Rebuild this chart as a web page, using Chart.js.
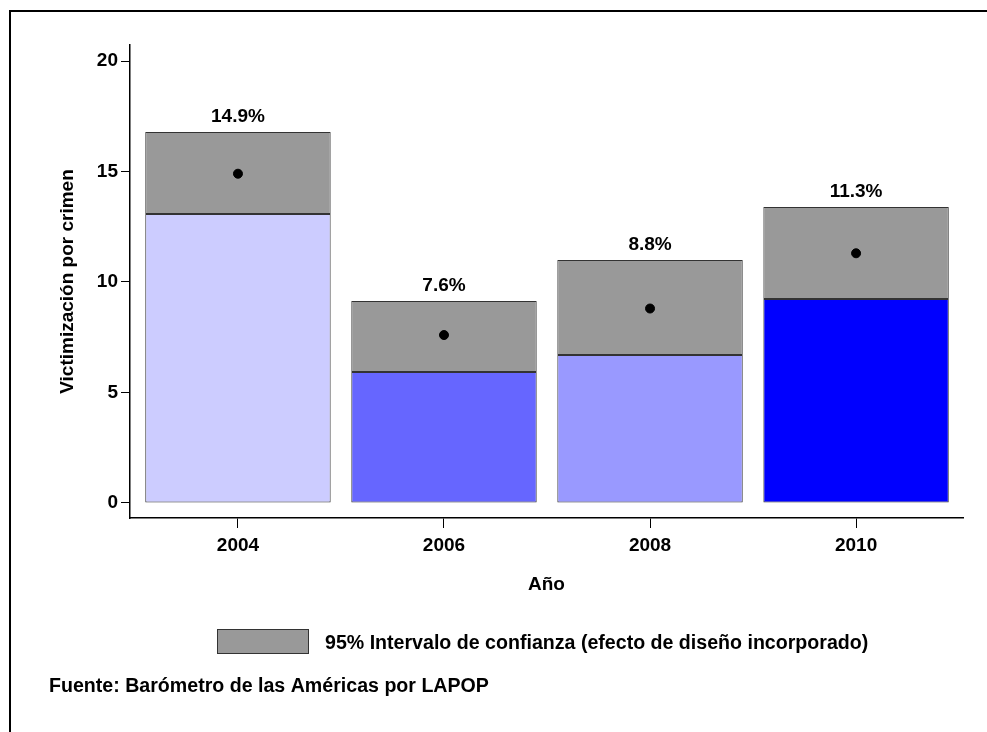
<!DOCTYPE html>
<html>
<head>
<meta charset="utf-8">
<script src="https://cdn.jsdelivr.net/npm/chart.js@4.4.1/dist/chart.umd.min.js"></script>
<style>
    html, body { margin: 0; padding: 0; background: #fff; }
    #frame {
        position: absolute; left: 9px; top: 10px; right: 0; bottom: 0;
        border-top: 2px solid #000; border-left: 2px solid #000;
    }
    #wrap { position: absolute; left: 0; top: 0; width: 987px; height: 732px; }
</style>
</head>
<body>
<div id="frame"></div>
<div id="wrap"><canvas id="chart" width="987" height="732"></canvas></div>
<script>
// data
const years = ['2004', '2006', '2008', '2010'];
const means = [14.9, 7.6, 8.8, 11.3];
const ciLower = [13.08, 5.93, 6.70, 9.23];
const ciUpper = [16.79, 9.14, 11.00, 13.39];
const barColors = ['#ccccff', '#6666ff', '#9999ff', '#0000ff'];
const yTicks = [0, 5, 10, 15, 20];

const ciLabel = '95% Intervalo de confianza (efecto de diseño incorporado)';
const sourceText = 'Fuente: Barómetro de las Américas por LAPOP';

Chart.defaults.font.family = '"Liberation Sans", Arial, sans-serif';
Chart.defaults.font.size = 19;
Chart.defaults.font.weight = 'bold';
Chart.defaults.color = '#000';

const fontStr = 'bold 19px "Liberation Sans", Arial, sans-serif';
const noteFont = 'bold 19.6px "Liberation Sans", Arial, sans-serif';

const extras = {
    id: 'extras',
    afterDatasetsDraw(chart) {
        const ctx = chart.ctx;
        const ciMeta = chart.getDatasetMeta(1);
        ctx.save();
        ctx.font = fontStr;
        ctx.fillStyle = '#000';
        ctx.textAlign = 'center';
        ctx.textBaseline = 'alphabetic';
        ciMeta.data.forEach((bar, i) => {
            ctx.fillText(means[i].toFixed(1) + '%', bar.x, bar.y - 10);
        });

        // legend
        ctx.fillStyle = '#999999';
        ctx.fillRect(217, 629, 92, 25);
        ctx.strokeStyle = '#333';
        ctx.lineWidth = 1;
        ctx.strokeRect(217.5, 629.5, 91, 24);
        ctx.fillStyle = '#000';
        ctx.textAlign = 'left';
        ctx.font = noteFont;
        ctx.fillText(ciLabel, 325, 649);

        // source
        ctx.fillText(sourceText, 49, 692);
        ctx.restore();
    }
};

new Chart(document.getElementById('chart'), {
    type: 'bar',
    data: {
        datasets: [
            {
                label: 'Victimización',
                data: years.map((y, i) => ({ x: i, y: [0, ciLower[i]] })),
                backgroundColor: barColors,
                borderColor: '#333',
                borderWidth: 1,
                borderSkipped: false,
                grouped: false,
                barPercentage: 0.9,
                categoryPercentage: 1,
                order: 2
            },
            {
                label: ciLabel,
                data: years.map((y, i) => ({ x: i, y: [ciLower[i], ciUpper[i]] })),
                backgroundColor: '#999999',
                borderColor: '#333',
                borderWidth: 1,
                borderSkipped: false,
                grouped: false,
                barPercentage: 0.9,
                categoryPercentage: 1,
                order: 1
            },
            {
                type: 'line',
                label: 'Media',
                data: years.map((y, i) => ({ x: i, y: means[i] })),
                showLine: false,
                pointRadius: 4.5,
                pointBackgroundColor: '#000',
                pointBorderColor: '#000',
                order: 0
            }
        ]
    },
    options: {
        responsive: false,
        animation: false,
        layout: { padding: { left: 0, top: 45, right: 24, bottom: 136 } },
        plugins: {
            legend: { display: false },
            tooltip: { enabled: false }
        },
        scales: {
            x: {
                type: 'linear',
                min: -0.524,
                max: 3.519,
                offset: false,
                afterBuildTicks: (axis) => { axis.ticks = years.map((_, i) => ({ value: i })); },
                afterFit: (axis) => { axis.height = 78; },
                ticks: {
                    callback: (v) => years[v],
                    padding: 6,
                    maxRotation: 0
                },
                grid: { offset: false, drawOnChartArea: false, drawTicks: true, tickLength: 10, color: '#000', lineWidth: 1 },
                border: { display: true, color: '#000', width: 1.5 },
                title: { display: true, text: 'Año', padding: 0 }
            },
            y: {
                min: -0.679,
                max: 20.724,
                afterBuildTicks: (axis) => { axis.ticks = yTicks.map(v => ({ value: v })); },
                afterFit: (axis) => { axis.width = 130; },
                ticks: { padding: 3 },
                grid: { drawOnChartArea: false, drawTicks: true, tickLength: 9, color: '#000', lineWidth: 1 },
                border: { display: true, color: '#000', width: 1.5 },
                title: { display: true, text: 'Victimización por crimen', padding: { top: 56, bottom: 0 } }
            }
        }
    },
    plugins: [extras]
});
</script>
</body>
</html>
